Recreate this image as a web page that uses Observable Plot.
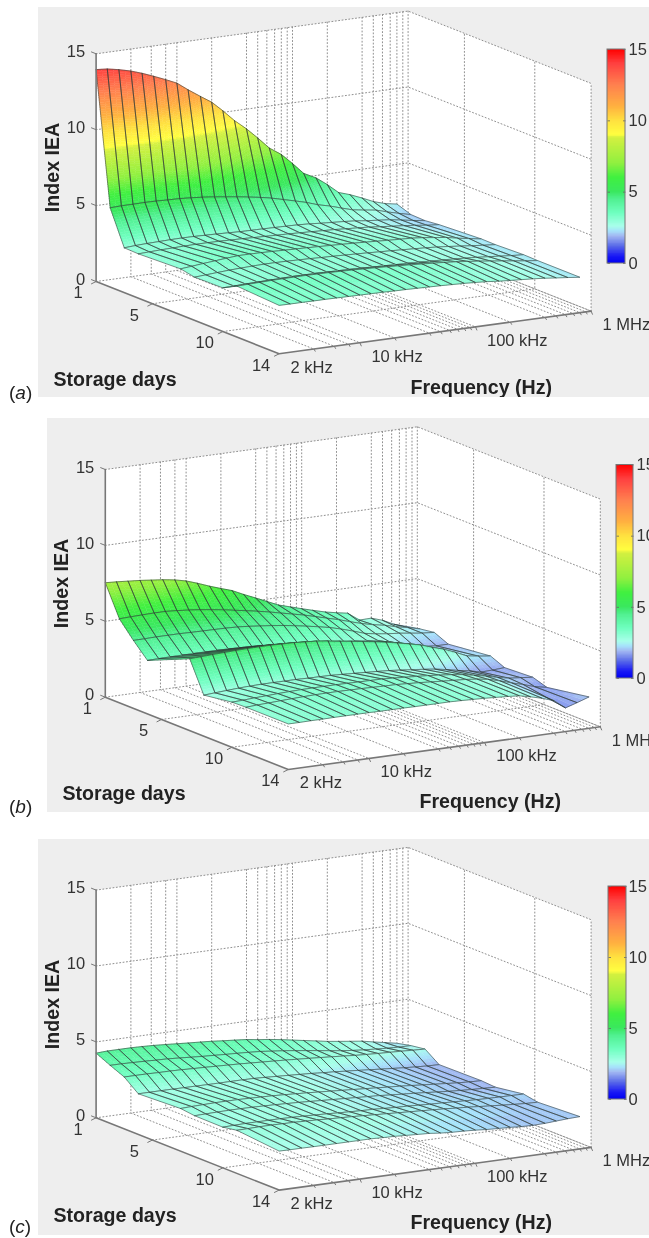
<!DOCTYPE html>
<html><head><meta charset="utf-8">
<script src="https://cdn.jsdelivr.net/npm/d3@7"></script>
<script src="https://cdn.jsdelivr.net/npm/@observablehq/plot@0.6"></script>
<style>
html,body{margin:0;padding:0;background:#fff;overflow:hidden}
#page{position:relative;width:649px;height:1238px;overflow:hidden;font-family:"Liberation Sans",Arial,sans-serif}
#page svg{position:absolute;filter:blur(.55px)}
.tag{position:absolute;font-size:19px;color:#222;line-height:1;filter:blur(.3px)}
</style></head><body><div id="page"></div>
<script>
// Frequencies of the measured grid (kHz) and storage days of the measured grid
const freqKHz = [2,2.5,3.15,4,5,6.3,8,10,12.5,16,20,25,31.5,40,50,63,80,100,125,160,200,250,315,400,500,630,800];
const days = [1,2,3,4,7,8,10,11,14];

// Index IEA, one row per storage day, one value per frequency
const ieaA = [
[13.96,13.9,13.75,13.55,13.3,13.0,12.67,12.34,11.8,11.25,10.77,10.1,9.35,8.7,8.0,7.23,6.7,6.0,5.25,4.84,4.3,3.68,3.43,3.1,2.77,2.53,2.39],
[5.22,5.25,5.25,5.26,5.25,5.22,5.2,5.15,5.09,5.0,4.9,4.8,4.68,4.55,4.4,4.2,4.0,3.8,3.55,3.35,3.12,2.9,2.78,2.67,2.45,2.25,2.06],
[2.95,3.0,3.03,3.05,3.07,3.08,3.07,3.05,3.03,3.0,2.97,2.96,2.95,2.93,2.92,2.9,2.86,2.8,2.75,2.7,2.64,2.55,2.48,2.4,2.28,2.15,2.03],
[2.92,2.95,2.98,3.0,3.02,3.03,3.03,3.02,3.0,2.98,2.95,2.93,2.9,2.88,2.85,2.82,2.78,2.75,2.7,2.65,2.6,2.52,2.45,2.38,2.3,2.2,2.13],
[3.03,3.1,3.18,3.25,3.32,3.38,3.38,3.37,3.35,3.32,3.3,3.28,3.25,3.22,3.19,3.16,3.12,3.08,3.04,3.0,2.97,2.9,2.8,2.7,2.55,2.42,2.29],
[2.85,2.9,2.95,3.0,3.03,3.06,3.08,3.08,3.07,3.05,3.03,3.0,2.98,2.95,2.92,2.89,2.85,2.82,2.78,2.74,2.7,2.65,2.58,2.5,2.42,2.35,2.28],
[2.88,2.9,2.93,2.95,2.97,2.98,3.0,3.0,3.0,2.98,2.97,2.95,2.93,2.9,2.88,2.85,2.83,2.8,2.77,2.73,2.7,2.65,2.6,2.53,2.47,2.4,2.35],
[3.36,3.38,3.4,3.42,3.43,3.44,3.44,3.43,3.42,3.4,3.38,3.35,3.32,3.28,3.24,3.2,3.15,3.1,3.05,2.98,2.9,2.82,2.72,2.62,2.52,2.42,2.33],
[3.19,3.18,3.18,3.17,3.17,3.16,3.15,3.14,3.13,3.12,3.1,3.09,3.07,3.05,3.03,3.0,2.97,2.93,2.88,2.8,2.75,2.7,2.65,2.58,2.5,2.42,2.33]
];
const ieaB = [
[7.54,7.5,7.44,7.38,7.3,7.22,7.1,6.93,6.68,6.37,6.12,5.88,5.52,5.18,4.85,4.51,4.28,4.06,3.85,3.63,3.48,3.35,2.79,2.81,2.57,2.2,1.95],
[5.53,5.56,5.58,5.6,5.6,5.55,5.48,5.4,5.3,5.18,5.05,4.92,4.78,4.62,4.45,4.28,4.1,3.9,3.7,3.48,3.25,3.03,2.85,2.7,2.5,2.35,2.15],
[4.47,4.48,4.5,4.5,4.5,4.48,4.47,4.46,4.45,4.42,4.36,4.28,4.2,4.1,3.98,3.85,3.7,3.55,3.35,3.1,2.85,2.72,2.62,2.55,2.45,2.35,2.29],
[3.52,3.54,3.55,3.56,3.56,3.56,3.56,3.55,3.53,3.5,3.45,3.4,3.35,3.28,3.22,3.15,3.08,3.0,2.92,2.82,2.72,2.55,2.35,2.1,1.95,1.88,1.88],
[4.73,4.76,4.8,4.83,4.86,4.88,4.89,4.89,4.87,4.85,4.8,4.75,4.65,4.53,4.42,4.3,4.18,4.05,3.9,3.72,3.55,3.3,3.07,2.75,2.42,2.3,2.2],
[2.7,2.75,2.8,2.85,2.88,2.9,2.9,2.9,2.9,2.88,2.87,2.86,2.82,2.78,2.74,2.7,2.65,2.58,2.5,2.42,2.33,2.2,2.04,1.9,1.72,1.75,1.8],
[2.97,3.0,3.05,3.08,3.12,3.15,3.17,3.18,3.18,3.18,3.17,3.16,3.15,3.14,3.1,3.05,3.0,2.95,2.88,2.8,2.7,2.55,2.4,2.2,2.05,1.98,1.9],
[3.0,3.05,3.08,3.12,3.15,3.18,3.2,3.21,3.21,3.2,3.19,3.17,3.15,3.14,3.1,3.06,3.0,2.95,2.9,2.85,2.77,2.65,2.45,2.2,2.0,1.75,1.6],
[3.0,3.0,3.01,3.01,3.02,3.02,3.02,3.02,3.01,3.01,3.01,3.0,3.0,3.0,3.0,2.98,2.95,2.92,2.88,2.83,2.77,2.6,2.4,2.13,1.56,1.8,2.07]
];
const ieaC = [
[4.26,4.3,4.3,4.3,4.28,4.25,4.2,4.15,4.1,4.05,4.0,3.93,3.87,3.8,3.69,3.6,3.48,3.35,3.22,3.08,2.95,2.85,2.75,2.65,2.5,2.35,2.2],
[3.82,3.82,3.8,3.78,3.75,3.73,3.68,3.63,3.58,3.54,3.5,3.47,3.43,3.38,3.3,3.22,3.12,3.02,2.92,2.8,2.7,2.62,2.55,2.5,2.45,2.42,2.41],
[3.42,3.42,3.42,3.4,3.4,3.38,3.35,3.33,3.3,3.27,3.24,3.2,3.16,3.12,3.08,3.03,2.98,2.93,2.88,2.82,2.76,2.72,2.68,2.65,2.62,2.58,2.55],
[2.68,2.68,2.68,2.68,2.67,2.67,2.66,2.66,2.66,2.66,2.65,2.62,2.58,2.54,2.5,2.46,2.4,2.36,2.3,2.24,2.18,2.12,2.06,2.0,1.95,1.91,1.89],
[2.81,2.84,2.86,2.88,2.88,2.88,2.86,2.84,2.82,2.78,2.74,2.7,2.65,2.6,2.55,2.5,2.45,2.4,2.35,2.3,2.24,2.18,2.12,2.06,2.0,1.96,1.93],
[2.7,2.72,2.74,2.75,2.75,2.74,2.72,2.7,2.67,2.64,2.6,2.56,2.52,2.48,2.44,2.4,2.36,2.3,2.25,2.2,2.14,2.08,2.02,1.97,1.93,1.9,1.87],
[2.68,2.7,2.72,2.72,2.72,2.72,2.7,2.68,2.65,2.62,2.58,2.55,2.52,2.5,2.46,2.42,2.4,2.36,2.32,2.3,2.26,2.23,2.2,2.18,2.17,2.16,2.15],
[2.84,2.85,2.87,2.87,2.86,2.85,2.82,2.8,2.76,2.73,2.7,2.66,2.62,2.58,2.54,2.5,2.46,2.42,2.38,2.32,2.28,2.22,2.16,2.1,2.05,2.0,1.98],
[2.57,2.56,2.56,2.55,2.55,2.55,2.55,2.55,2.55,2.52,2.5,2.46,2.42,2.38,2.3,2.25,2.22,2.18,2.12,2.08,2.05,2.0,1.98,2.0,2.05,2.1,2.13]
];

// Axis ticks and labels
const ieaTicks = [0,5,10,15];
const dayTicks = [1,5,10,14];
const dayGrid = [5,10];
const freqTicks = [{k:2,t:"2 kHz"},{k:10,t:"10 kHz"},{k:100,t:"100 kHz"},{k:1000,t:"1 MHz"}];
const freqGrid = [4,6,8,10,20,40,50,60,70,80,90,100,200,400,500,600,700,800,900,1000];

// Colormap
const cmapStops = [0,.5,1.2,1.9,2.25,2.6,3.5,4.5,5,6,7,8.8,9.0,10,11,12.5,14,15];
const cmapColors = ["#0000f0","#1a1af5","#5a6ae8","#a2b8f2","#a6e2fb","#a8ffea","#70ffc0","#50f090","#3ae85f","#40f040","#90f040","#d4f040","#ffff40","#ffe040","#ffb040","#ff8050","#ff4040","#ff0000"];
const barSteps = d3.range(0,15,.1);

// Layout of the three panels (page pixels)
const panels = [
 {tag:"a",iea:ieaA,box:[38,7,611,390],o:[95.6,281],bar:[607,625,49,263],barText:628,tagPos:[9,383],
  zTitle:[52,167],dTitle:[53,379],fTitle:[410,387]},
 {tag:"b",iea:ieaB,box:[47,418,602,394],o:[104.8,696.7],bar:[616,633,464.5,678],barText:636,tagPos:[9,797],
  zTitle:[61.5,583],dTitle:[62,793],fTitle:[419,801]},
 {tag:"c",iea:ieaC,box:[38,839,611,396],o:[95.6,1117.3],bar:[608,626,886,1099],barText:628,tagPos:[9,1217],
  zTitle:[52,1004],dTitle:[53,1215],fTitle:[410,1222]}
];
// Orthographic view of the axes box
const view = {dx:183,dy:72.3,fx:312,fy:42.7,zy:15.18};
const fMax = 1000, fMin = 2, dMin = 1, dMax = 14, zMax = 15;
const project = (p,k,day,v)=>{
  const d=(day-dMin)/(dMax-dMin), f=Math.log(k/fMin)/Math.log(fMax/fMin);
  return [p.o[0]+d*view.dx+f*view.fx, p.o[1]+d*view.dy-f*view.fy-v*view.zy];
};
const GRID={stroke:"#8f8f8f",strokeWidth:1,strokeDasharray:"1 2.4"};
const AXIS={stroke:"#777",strokeWidth:1.6};
const TICK={fill:"#333",fontSize:16.5};
const TITLE={fill:"#222",fontSize:19.6,fontWeight:"bold"};

function polyline(p,pts,g){return pts.map(([k,day,v])=>{const [x,y]=project(p,k,day,v);return {x,y,g};});}

function draw(p){
  const [L,T,W,H]=p.box;
  // walls and floor
  const white=polyline(p,[[fMin,dMin,0],[fMin,dMin,zMax],[fMax,dMin,zMax],[fMax,dMax,zMax],[fMax,dMax,0],[fMin,dMax,0]],0);
  const grid=[]; let g=0;
  for(const k of freqGrid){
    grid.push(...polyline(p,[[k,dMin,zMax],[k,dMin,0],[k,dMax,0]],g++));
  }
  for(const v of ieaTicks){
    grid.push(...polyline(p,[[fMin,dMin,v],[fMax,dMin,v],[fMax,dMax,v]],g++));
  }
  for(const day of dayGrid){
    grid.push(...polyline(p,[[fMin,day,0],[fMax,day,0],[fMax,day,zMax]],g++));
  }
  grid.push(...polyline(p,[[fMax,dMax,0],[fMax,dMax,zMax]],g++));
  const axes=polyline(p,[[fMin,dMin,zMax],[fMin,dMin,0],[fMin,dMax,0],[fMax,dMax,0]],0);
  const link=(rows,fn,dx,dy)=>rows.map(r=>{const [x,y]=fn(r);return {x1:x,y1:y,x2:x+dx,y2:y+dy};});
  const zt=link(ieaTicks,v=>project(p,fMin,dMin,v),-5,-2);
  const dt=link(dayTicks,d=>project(p,fMin,d,0),-5,2.5);
  const ft=link(freqGrid,k=>project(p,k,dMax,0),1.5,2.5);
  ft.forEach((r,i)=>{if([10,100,1000].includes(freqGrid[i])) r.y2=r.y1+3.5;});
  const marks=[
    Plot.line(white,{x:"x",y:"y",fill:"#fff",stroke:"none"}),
    Plot.line(grid,{x:"x",y:"y",z:"g",...GRID})
  ];
  // surface painted from the far corner to the near one
  for(let j=0;j<days.length-1;j++){
    const pieces=[],mesh=[]; let id=0;
    for(let i=freqKHz.length-2;i>=0;i--){
      const c=[p.iea[j][i],p.iea[j][i+1],p.iea[j+1][i+1],p.iea[j+1][i]];
      const nv=Math.max(1,Math.min(60,Math.ceil(Math.max(Math.abs(c[0]-c[3]),Math.abs(c[1]-c[2]))/.15)));
      const nu=Math.max(2,Math.min(8,Math.ceil(Math.abs(c[0]-c[1])/.15)));
      const P=[project(p,freqKHz[i],days[j],c[0]),project(p,freqKHz[i+1],days[j],c[1]),project(p,freqKHz[i+1],days[j+1],c[2]),project(p,freqKHz[i],days[j+1],c[3])];
      const bl=(u,w)=>{const m=(a,b,e,h)=>(1-w)*((1-u)*a+u*b)+w*((1-u)*h+u*e);
        return [m(P[0][0],P[1][0],P[2][0],P[3][0]),m(P[0][1],P[1][1],P[2][1],P[3][1]),m(c[0],c[1],c[2],c[3])];};
      for(let a=0;a<nu;a++)for(let b=0;b<nv;b++){
        const u0=a/nu,u1=(a+1)/nu,w0=b/nv,w1=(b+1)/nv;
        const v=bl((u0+u1)/2,(w0+w1)/2)[2];
        for(const [u,w] of [[u0,w0],[u1,w0],[u1,w1],[u0,w1]]){const q=bl(u,w);pieces.push({x:q[0],y:q[1],v,g:id});}
        id++;
      }
      for(const q of [P[0],P[1],P[2],P[3],P[0]]) mesh.push({x:q[0],y:q[1],g:i});
    }
    marks.push(Plot.line(pieces,{x:"x",y:"y",z:"g",fill:"v",stroke:"v",strokeWidth:.5}));
    marks.push(Plot.line(mesh,{x:"x",y:"y",z:"g",stroke:"#2f3a36",strokeWidth:.85,strokeOpacity:.68}));
  }
  // axes, ticks, labels
  marks.push(Plot.line(axes,{x:"x",y:"y",...AXIS}));
  marks.push(Plot.link(zt.concat(dt),{x1:"x1",y1:"y1",x2:"x2",y2:"y2",stroke:"#777",strokeWidth:1}));
  marks.push(Plot.link(ft,{x1:"x1",y1:"y1",x2:"x2",y2:"y2",stroke:"#777",strokeWidth:1}));
  marks.push(Plot.text(ieaTicks,{x:v=>project(p,fMin,dMin,v)[0]-11,y:v=>project(p,fMin,dMin,v)[1]-2,text:d=>String(d),textAnchor:"end",...TICK}));
  marks.push(Plot.text(dayTicks,{x:d=>project(p,fMin,d,0)[0]-18,y:d=>project(p,fMin,d,0)[1]+11.5,text:d=>String(d),...TICK}));
  marks.push(Plot.text(freqTicks,{x:d=>project(p,d.k,dMax,0)[0]+11.5,y:d=>project(p,d.k,dMax,0)[1]+13.5,text:"t",textAnchor:"start",...TICK}));
  marks.push(Plot.text(["Index IEA"],{x:()=>p.zTitle[0],y:()=>p.zTitle[1],rotate:-90,...TITLE}));
  marks.push(Plot.text(["Storage days"],{x:()=>p.dTitle[0],y:()=>p.dTitle[1],textAnchor:"start",...TITLE}));
  marks.push(Plot.text(["Frequency (Hz)"],{x:()=>p.fTitle[0],y:()=>p.fTitle[1],textAnchor:"start",...TITLE}));
  // colour bar
  const [b0,b1,bt,bb]=p.bar;
  const barY=v=>bb-(bb-bt)*v/zMax;
  marks.push(Plot.rect(barSteps,{x1:()=>b0,x2:()=>b1,y1:v=>barY(v),y2:v=>Math.max(bt,barY(v+.1)-1),fill:v=>v+.05}));
  marks.push(Plot.link(ieaTicks,{x1:()=>b0,x2:()=>b0+2.5,y1:barY,y2:barY,stroke:"#666",strokeWidth:.8}));
  marks.push(Plot.link(ieaTicks,{x1:()=>b1,x2:()=>b1-2.5,y1:barY,y2:barY,stroke:"#666",strokeWidth:.8}));
  marks.push(Plot.rect([0],{x1:()=>b0,x2:()=>b1,y1:()=>bb,y2:()=>bt,fill:"none",stroke:"#777",strokeWidth:1}));
  marks.push(Plot.text(ieaTicks,{x:()=>p.barText,y:barY,text:d=>String(d),textAnchor:"start",...TICK}));

  const svg=Plot.plot({
    width:W,height:H,margin:0,
    style:{background:"#eeeeee",fontFamily:"'Liberation Sans',Arial,sans-serif",overflow:"hidden"},
    x:{domain:[L,L+W],range:[0,W],axis:null},
    y:{domain:[T,T+H],range:[0,H],axis:null},
    color:{type:"linear",domain:cmapStops,range:cmapColors,interpolate:"rgb",clamp:true,legend:false},
    marks
  });
  svg.style.left=L+"px"; svg.style.top=T+"px";
  const page=document.getElementById("page");
  page.appendChild(svg);
  const tag=document.createElement("div");
  tag.className="tag"; tag.style.left=p.tagPos[0]+"px"; tag.style.top=p.tagPos[1]+"px";
  tag.innerHTML="(<i>"+p.tag+"</i>)";
  page.appendChild(tag);
}
panels.forEach(draw);
</script></body></html>
